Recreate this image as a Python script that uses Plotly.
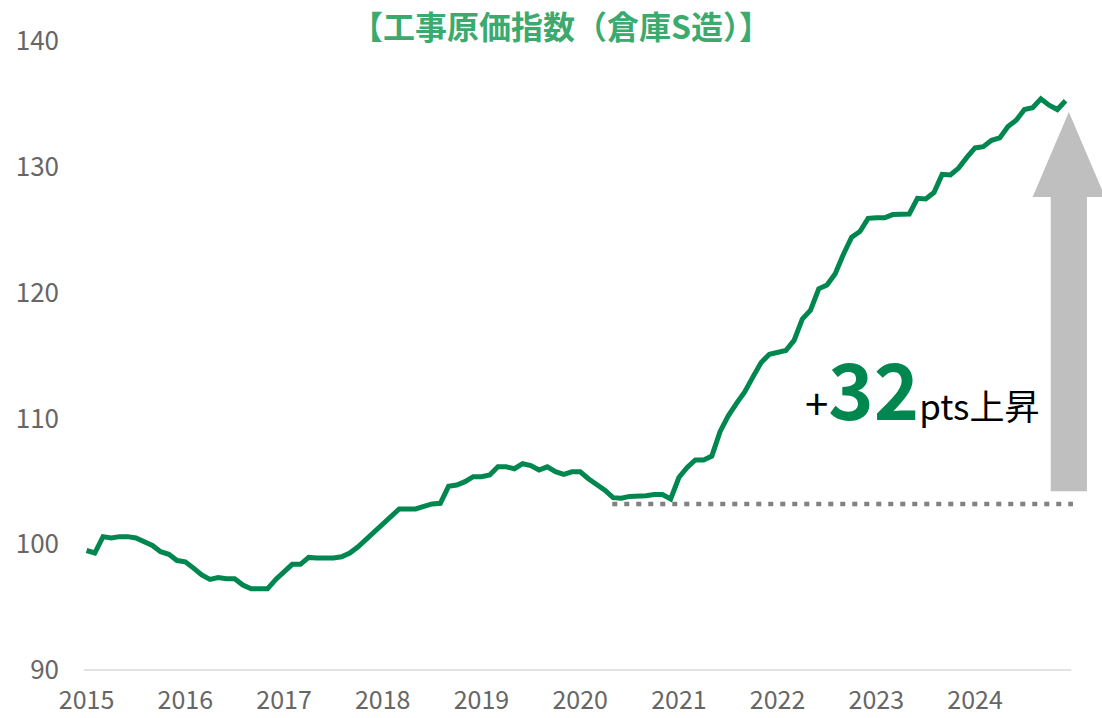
import plotly.graph_objects as go

# ---- data ----
years = ["2015", "2016", "2017", "2018", "2019", "2020", "2021", "2022", "2023", "2024"]
month_index = list(range(120))  # Jan 2015 .. Dec 2024
index_values = [
    99.5, 99.3, 100.6, 100.5, 100.6, 100.6, 100.5, 100.2, 99.9, 99.4, 99.2, 98.7,
    98.6, 98.1, 97.55, 97.2, 97.35, 97.25, 97.25, 96.75, 96.45, 96.45, 96.45, 97.2,
    97.8, 98.4, 98.4, 98.95, 98.9, 98.9, 98.9, 99.0, 99.3, 99.8, 100.4, 100.95,
    101.6, 102.1, 102.8, 102.8, 102.8, 103.0, 103.2, 103.25, 104.6, 104.7, 104.97, 105.37,
    105.37, 105.5, 106.15, 106.15, 106.0, 106.4, 106.25, 105.9, 106.15, 105.77, 105.55, 105.75,
    105.75, 105.2, 104.8, 104.3, 103.7, 103.65, 103.8, 103.8, 103.85, 103.95, 103.95, 103.6,
    105.3, 106.1, 106.7, 106.7, 107.0, 108.95, 110.2, 111.2, 112.1, 113.3, 114.45, 115.1,
    115.3, 115.4, 116.2, 117.9, 118.6, 120.3, 120.6, 121.5, 123.05, 124.4, 124.85, 125.9,
    125.95, 125.95, 126.2, 126.25, 126.25, 127.5, 127.45, 127.95, 129.4, 129.35, 129.9, 130.75,
    131.5, 131.6, 132.1, 132.3, 133.2, 133.7, 134.55, 134.7, 135.4, 134.9, 134.55, 135.25,
]
y_ticks = [90, 100, 110, 120, 130, 140]
title_text = "【工事原価指数（倉庫S造）】"
rise_label = "32"

GREEN = "#00874F"
TITLE_GREEN = "#3BAA6E"
GRAY_TXT = "#666666"
FONT = "Noto Sans CJK JP"

fig = go.Figure()
fig.add_trace(go.Scatter(
    x=month_index, y=index_values, mode="lines",
    line=dict(color=GREEN, width=5),
    hoverinfo="skip", showlegend=False,
))

# baseline
fig.add_shape(type="line", xref="x", yref="paper", x0=-0.3, x1=119.7, y0=0, y1=0,
              line=dict(color="#D9D9D9", width=1.5), layer="below")

# dotted reference line
fig.add_shape(type="line", xref="x", yref="y", x0=63.9, x1=119.9, y0=103.2, y1=103.2,
              line=dict(color="#808080", width=4.5, dash="5px,7px"))

# arrow
sx0, sx1 = 117.2, 121.6
hx0, hx1 = 115.0, 123.8
xc = (sx0 + sx1) / 2
y_bot, y_head, y_tip = 104.2, 127.6, 134.35
path = (f"M {sx0} {y_bot} L {sx0} {y_head} L {hx0} {y_head} L {xc} {y_tip} "
        f"L {hx1} {y_head} L {sx1} {y_head} L {sx1} {y_bot} Z")
fig.add_shape(type="path", xref="x", yref="y", path=path,
              fillcolor="#BFBFBF", line=dict(width=0))

fig.add_annotation(
    xref="x", yref="y", x=116.0, y=112.55, xanchor="right", yanchor="middle",
    showarrow=False,
    text=(f"<span style='font-size:42px;color:#000000'>+</span>"
          f"<b><span style='font-size:77px;color:{GREEN}'>{rise_label}</span></b>"
          f"<span style='font-size:35px;color:#000000'>pts上昇</span>"),
    font=dict(family=FONT, size=35, color="#000000"),
)

fig.update_layout(
    width=1102, height=718,
    margin=dict(l=60, r=0, t=41, b=48, autoexpand=False),
    paper_bgcolor="white", plot_bgcolor="white",
    title=dict(text=f"<b>{title_text}</b>", x=0.509, xref="container", xanchor="center",
               y=1 - 28 / 718, yref="container", yanchor="middle",
               font=dict(family=FONT, size=32, color=TITLE_GREEN)),
    font=dict(family=FONT),
)
fig.update_xaxes(range=[-3.23, 123.43], tickvals=[12 * i for i in range(len(years))],
                 ticktext=years, showgrid=False, zeroline=False, showline=False,
                 tickfont=dict(family=FONT, size=25, color=GRAY_TXT), ticks="",
                 ticklabelstandoff=13, automargin=False)
fig.update_yaxes(range=[90, 140], tickvals=y_ticks, showgrid=False, zeroline=False,
                 showline=False, tickfont=dict(family=FONT, size=26, color=GRAY_TXT), ticks="",
                 automargin=False)

fig.write_html("out.html", config={"displayModeBar": False},
               post_script="document.body.style.margin='0';document.body.style.padding='0';")
